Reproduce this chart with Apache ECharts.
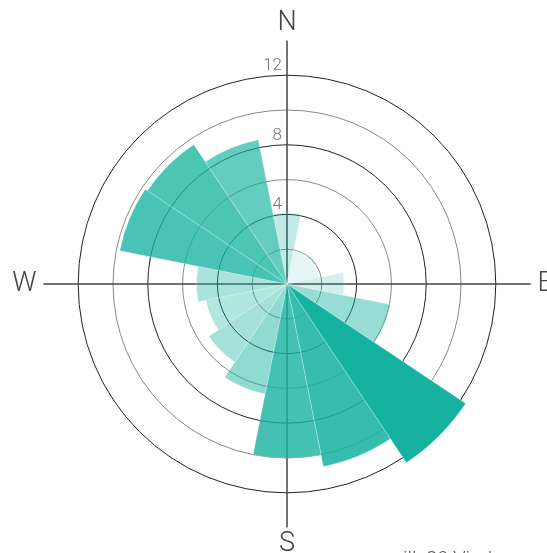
<!DOCTYPE html>
<html>
<head>
<meta charset="utf-8">
<script src="https://cdn.jsdelivr.net/npm/echarts@6/dist/echarts.min.js"></script>
<style>
  html, body { margin: 0; padding: 0; background: #fff; }
  #chart { width: 547px; height: 553px; }
</style>
</head>
<body>
<div id="chart"></div>
<script>
const directions = ['N','NNE','NE','ENE','E','ESE','SE','SSE','S','SSW','SW','WSW','W','WNW','NW','NNW'];
const frequency = [4.08, 2.0, 2.1, 1.85, 3.28, 6.05, 12.35, 10.7, 10.0, 6.45, 5.4, 4.75, 5.2, 9.8, 9.65, 8.45];
const compassLabels = ['N', 'E', 'S', 'W'];
const radiusLabels = [4, 8, 12];
const caption = 'ill. 20 Vindrose';

const FONT = 'Roboto, "Helvetica Neue", Arial, sans-serif';
const CENTER = [287, 284];
const RADIUS = 243.6;
const chart = echarts.init(document.getElementById('chart'), null, { renderer: 'canvas' });

chart.setOption({
  animation: false,
  backgroundColor: '#fff',
  title: {
    text: caption,
    left: 398,
    top: 546,
    textStyle: { fontFamily: FONT, fontWeight: 300, fontSize: 20, color: '#555' }
  },
  polar: [
    { center: CENTER, radius: RADIUS },
    { center: CENTER, radius: RADIUS }
  ],
  angleAxis: [{
    polarIndex: 0,
    type: 'value',
    min: 0,
    max: 360,
    interval: 90,
    startAngle: 90,
    clockwise: true,
    axisLine: { show: false },
    axisTick: { show: false },
    axisLabel: {
      margin: 7,
      lineHeight: 20,
      fontFamily: FONT,
      fontWeight: 300,
      fontSize: 27,
      color: '#444',
      formatter: v => (v < 360 ? compassLabels[Math.round(v / 90)] : '')
    },
    splitLine: { show: true, lineStyle: { color: '#444', width: 1.5 } },
    z: 1
  }, {
    polarIndex: 1,
    type: 'category',
    data: directions,
    boundaryGap: true,
    startAngle: 90 + 11.25,
    clockwise: true,
    axisLine: { show: false },
    axisTick: { show: false },
    axisLabel: { show: false },
    splitLine: { show: false }
  }],
  radiusAxis: [{
    polarIndex: 0,
    type: 'value',
    min: 0,
    max: 14,
    interval: 2,
    axisLine: { show: false },
    axisTick: { show: false },
    axisLabel: {
      margin: 5,
      verticalAlign: 'bottom',
      padding: [0, 0, 1, 0],
      fontFamily: FONT,
      fontWeight: 300,
      fontSize: 17,
      color: '#777',
      formatter: v => radiusLabels.indexOf(v) >= 0 ? String(v) : ''
    },
    splitLine: {
      show: true,
      lineStyle: {
        color: ['#888', '#888', '#222', '#888', '#222', '#888', '#222', 'rgba(0,0,0,0)'],
        width: 1
      }
    },
    z: 1
  }, {
    polarIndex: 1,
    type: 'value',
    min: 0,
    max: 14,
    axisLine: { show: false },
    axisTick: { show: false },
    axisLabel: { show: false },
    splitLine: { show: false }
  }],
  series: [{
    type: 'bar',
    coordinateSystem: 'polar',
    polarIndex: 1,
    data: frequency,
    barCategoryGap: '0%',
    barWidth: '100%',
    itemStyle: {
      color: p => 'rgba(22,178,160,' + Math.min(1, Math.max(0.12, 0.09 * p.value - 0.1)).toFixed(3) + ')',
      borderColor: 'rgba(255,255,255,0.45)',
      borderWidth: 0.6
    },
    z: 2
  }]
});
</script>
</body>
</html>
